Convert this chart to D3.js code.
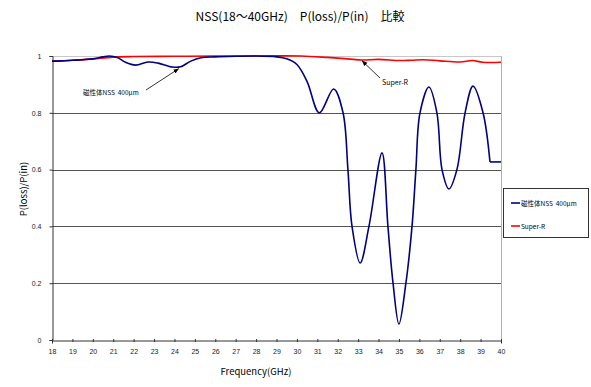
<!DOCTYPE html>
<html>
<head>
<meta charset="utf-8">
<script src="https://cdn.jsdelivr.net/npm/d3@7"></script>
<style>
body { margin: 0; background: #fff; }
svg { display: block; font-family: "Noto Sans CJK JP", "DejaVu Sans", sans-serif; }
svg text { white-space: pre; }
</style>
</head>
<body>
<div id="chart"></div>
<script>
// frequency (GHz) and P(loss)/P(in) values
var nssFreq = [18.0, 18.5, 19.0, 19.5, 20.0, 20.5, 20.8, 21.2, 21.6, 22.1, 22.7, 23.2, 23.9, 24.3, 24.8, 25.3, 26.0, 27.0, 28.0, 29.0, 29.5, 30.0, 30.5, 31.1, 31.8, 32.26, 32.5, 32.7, 33.1, 33.53, 34.17, 34.46, 34.71, 35.0, 35.34, 35.64, 35.83, 36.03, 36.47, 36.86, 37.11, 37.45, 37.84, 38.24, 38.63, 39.12, 39.46];
var nssVal  = [0.982, 0.983, 0.985, 0.987, 0.99, 0.997, 1.0, 0.995, 0.978, 0.968, 0.979, 0.975, 0.961, 0.962, 0.982, 0.994, 0.997, 0.999, 1.0, 0.997, 0.99, 0.97, 0.91, 0.80, 0.884, 0.80, 0.60, 0.40, 0.271, 0.40, 0.659, 0.40, 0.20, 0.056, 0.20, 0.40, 0.60, 0.80, 0.891, 0.80, 0.60, 0.532, 0.60, 0.80, 0.894, 0.80, 0.627];
// flat tail of the NSS curve
var nssTailFreq = [39.46, 40.0];
var nssTailVal  = [0.627, 0.627];

var superFreq = [18.0, 19.0, 20.0, 21.0, 22.0, 24.0, 26.0, 28.0, 30.2, 31.5, 32.5, 33.2, 34.0, 35.0, 35.6, 36.2, 37.0, 38.0, 38.6, 39.1, 40.0];
var superVal  = [0.982, 0.985, 0.99, 0.996, 0.998, 0.999, 1.0, 1.0, 1.0, 0.995, 0.99, 0.986, 0.988, 0.984, 0.985, 0.987, 0.983, 0.979, 0.984, 0.978, 0.978];

var xTicks = d3.range(18, 41, 1);
var yTicks = [0, 0.2, 0.4, 0.6, 0.8, 1];

var seriesNames = ["磁性体NSS  400μm", "Super-R"];
var seriesColors = ["#000080", "#ff0000"];

var width = 591, height = 387;
var plotLeft = 52, plotRight = 501, plotTop = 56, plotBottom = 340;

var svg = d3.select("#chart").append("svg")
	.attr("width", width)
	.attr("height", height);

var x = d3.scaleLinear().domain([18, 40]).range([plotLeft, plotRight]);
var y = d3.scaleLinear().domain([0, 1]).range([plotBottom, plotTop]);

// gridlines
svg.append("g")
	.selectAll("line")
	.data(yTicks.filter(function(d){ return d > 0; }))
	.enter().append("line")
	.attr("x1", plotLeft)
	.attr("x2", plotRight)
	.attr("y1", function(d){ return Math.round(y(d)) + 0.5; })
	.attr("y2", function(d){ return Math.round(y(d)) + 0.5; })
	.style("stroke", function(d){ return d == 1 ? "#c8c8c8" : "#555"; })
	.style("stroke-width", 1);

// right plot border
svg.append("line")
	.attr("x1", plotRight + 0.5).attr("x2", plotRight + 0.5)
	.attr("y1", plotTop).attr("y2", plotBottom)
	.style("stroke", "#b0b0b0");

// axes
var xAxis = svg.append("g")
	.attr("transform", "translate(0," + (plotBottom + 0.5) + ")")
	.call(d3.axisBottom(x).tickValues(xTicks).tickSize(3).tickPadding(6).tickFormat(d3.format("d")));
var yAxis = svg.append("g")
	.attr("transform", "translate(" + (plotLeft + 0.5) + ",0)")
	.call(d3.axisLeft(y).tickValues(yTicks).tickSize(3).tickPadding(8).tickFormat(function(d){ return d == 0 ? "0" : d == 1 ? "1" : d3.format(".1f")(d); }));

[xAxis, yAxis].forEach(function(a){
	a.select(".domain").style("stroke", "#333");
	a.selectAll(".tick line").style("stroke", "#333");
	a.selectAll(".tick text").style("font-size", "7px").style("fill", "#222");
});
xAxis.selectAll(".tick line").attr("y1", -1.5).attr("y2", 1.5);

var line = d3.line()
	.x(function(d){ return x(d[0]); })
	.y(function(d){ return y(d[1]); })
	.curve(d3.curveCatmullRom.alpha(0.5));

svg.append("path")
	.datum(d3.zip(superFreq, superVal))
	.attr("d", line)
	.style("fill", "none")
	.style("stroke", seriesColors[1])
	.style("stroke-width", 1.6);

svg.append("path")
	.datum(d3.zip(nssFreq, nssVal))
	.attr("d", line)
	.style("fill", "none")
	.style("stroke", seriesColors[0])
	.style("stroke-width", 1.6);

svg.append("path")
	.datum(d3.zip(nssTailFreq, nssTailVal))
	.attr("d", line.curve(d3.curveLinear))
	.style("fill", "none")
	.style("stroke", seriesColors[0])
	.style("stroke-width", 1.6);

// title and axis labels
svg.append("text")
	.attr("x", 300).attr("y", 21)
	.attr("text-anchor", "middle")
	.style("font-size", "12px")
	.text("NSS(18～40GHz)　P(loss)/P(in)　比較");

svg.append("text")
	.attr("x", 256).attr("y", 375)
	.attr("text-anchor", "middle")
	.style("font-size", "9.5px")
	.text("Frequency(GHz)");

svg.append("text")
	.attr("transform", "translate(27,189) rotate(-90)")
	.attr("text-anchor", "middle")
	.style("font-size", "9.5px")
	.text("P(loss)/P(in)");

// arrows
svg.append("defs").append("marker")
	.attr("id", "arrow")
	.attr("viewBox", "0 0 10 10")
	.attr("refX", 9).attr("refY", 5)
	.attr("markerWidth", 7).attr("markerHeight", 7)
	.attr("orient", "auto")
	.append("path")
	.attr("d", "M0,1 L10,5 L0,9 Z")
	.style("fill", "#000");

svg.append("line")
	.attr("x1", 146).attr("y1", 90)
	.attr("x2", x(24.2)).attr("y2", y(0.962) + 2)
	.style("stroke", "#000").style("stroke-width", 0.8)
	.attr("marker-end", "url(#arrow)");
svg.append("text")
	.attr("x", 83).attr("y", 95)
	.style("font-size", "6.5px")
	.text(seriesNames[0]);

svg.append("line")
	.attr("x1", 380).attr("y1", 78)
	.attr("x2", x(33.2)).attr("y2", y(0.986) + 1)
	.style("stroke", "#000").style("stroke-width", 0.8)
	.attr("marker-end", "url(#arrow)");
svg.append("text")
	.attr("x", 382).attr("y", 85)
	.style("font-size", "7px")
	.text(seriesNames[1]);

// legend
var legend = svg.append("g");
legend.append("rect")
	.attr("x", 503.5).attr("y", 188.5)
	.attr("width", 85).attr("height", 49)
	.style("fill", "#fff")
	.style("stroke", "#333");
seriesNames.forEach(function(name, i){
	var ly = 203 + i * 23;
	legend.append("line")
		.attr("x1", 511).attr("x2", 520)
		.attr("y1", ly).attr("y2", ly)
		.style("stroke", seriesColors[i])
		.style("stroke-width", 1.6);
	legend.append("text")
		.attr("x", 521).attr("y", ly + 2.5)
		.style("font-size", "6.5px")
		.text(name);
});
</script>
</body>
</html>
